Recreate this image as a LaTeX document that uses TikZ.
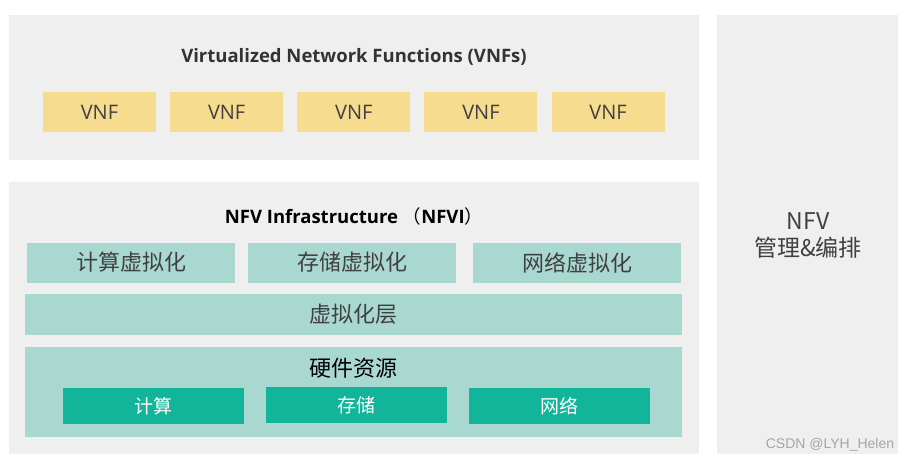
\documentclass[tikz,border=0pt]{standalone}
\usepackage{fontspec}
\setmainfont{Open Sans}
\newfontfamily\cjk{Noto Sans CJK SC}
\newfontfamily\wmfont{Liberation Sans}
\usepackage{xcolor}
\usetikzlibrary{positioning}

\definecolor{panelgray}{HTML}{EFEFEF}
\definecolor{vnfyellow}{HTML}{F6DC8F}
\definecolor{lightteal}{HTML}{A9D8D0}
\definecolor{darkteal}{HTML}{12B59A}
\definecolor{labelgray}{HTML}{404040}

\begin{document}
\begin{tikzpicture}[
        x=1pt, y=-1pt,
        node distance=13.75pt,
        panel/.style={rectangle, fill=panelgray, inner sep=0pt},
        vnfbox/.style={rectangle, fill=vnfyellow, minimum width=113pt, minimum height=40pt, inner sep=0pt, text=labelgray, font=\fontsize{20}{24}\selectfont},
        virtbox/.style={rectangle, fill=lightteal, minimum width=208pt, minimum height=40pt, inner sep=0pt, text=labelgray, font=\cjk\fontsize{22}{26}\selectfont},
        hwbox/.style={rectangle, fill=darkteal, minimum width=181pt, minimum height=36pt, inner sep=0pt, text=white, font=\cjk\fontsize{19}{22}\selectfont},
        title/.style={font=\bfseries\fontsize{18.5}{22}\selectfont}
    ]
        \useasboundingbox (0,0) rectangle (909,462);

        % Panels
        \node[panel, minimum width=690pt, minimum height=145pt] (vnfpanel) at (354,87.5) {};
        \node[panel, minimum width=690pt, minimum height=272pt] (nfvipanel) at (354,318) {};
        \node[panel, minimum width=181pt, minimum height=439pt] (manopanel) at (807.5,234.5) {};

        % VNFs
        \node[title, text=black!80] (vnftitle) at (354,57) {Virtualized Network Functions (VNFs)};
        \node[vnfbox] (vnf1) at (99.5,112.5) {VNF};
        \node[vnfbox, right=of vnf1] (vnf2) {VNF};
        \node[vnfbox, right=of vnf2] (vnf3) {VNF};
        \node[vnfbox, right=of vnf3] (vnf4) {VNF};
        \node[vnfbox, right=of vnf4] (vnf5) {VNF};

        % NFVI
        \node[title] (nfvititle) at (354,216) {NFV Infrastructure {\cjk\mdseries （}NFVI{\cjk\mdseries ）}};
        \node[virtbox] (computevirt) at (131,262.5) {计算虚拟化};
        \node[virtbox] (storagevirt) at (352,262.5) {存储虚拟化};
        \node[virtbox] (networkvirt) at (577,262.5) {网络虚拟化};
        \node[virtbox, minimum width=657pt, minimum height=41pt] (virtlayer) at (353.5,314.5) {虚拟化层};
        \node[rectangle, fill=lightteal, minimum width=657pt, minimum height=90pt, inner sep=0pt] (hwlayer) at (353.5,392) {};
        \node[font=\cjk\fontsize{22}{26}\selectfont] (hwtitle) at (353.5,368) {硬件资源};
        \node[hwbox] (compute) at (153.5,406) {计算};
        \node[hwbox] (storage) at (356.5,405) {存储};
        \node[hwbox] (network) at (559.5,406) {网络};

        % MANO
        \node[align=center, text=labelgray, font=\cjk\fontsize{23}{27}\selectfont] (manotext) at (808,236) {NFV\\管理\&编排};

        \node[font=\wmfont\fontsize{14}{16}\selectfont, text=black!35] (watermark) at (830,445) {CSDN @LYH\_Helen};

    \end{tikzpicture}
\end{document}
